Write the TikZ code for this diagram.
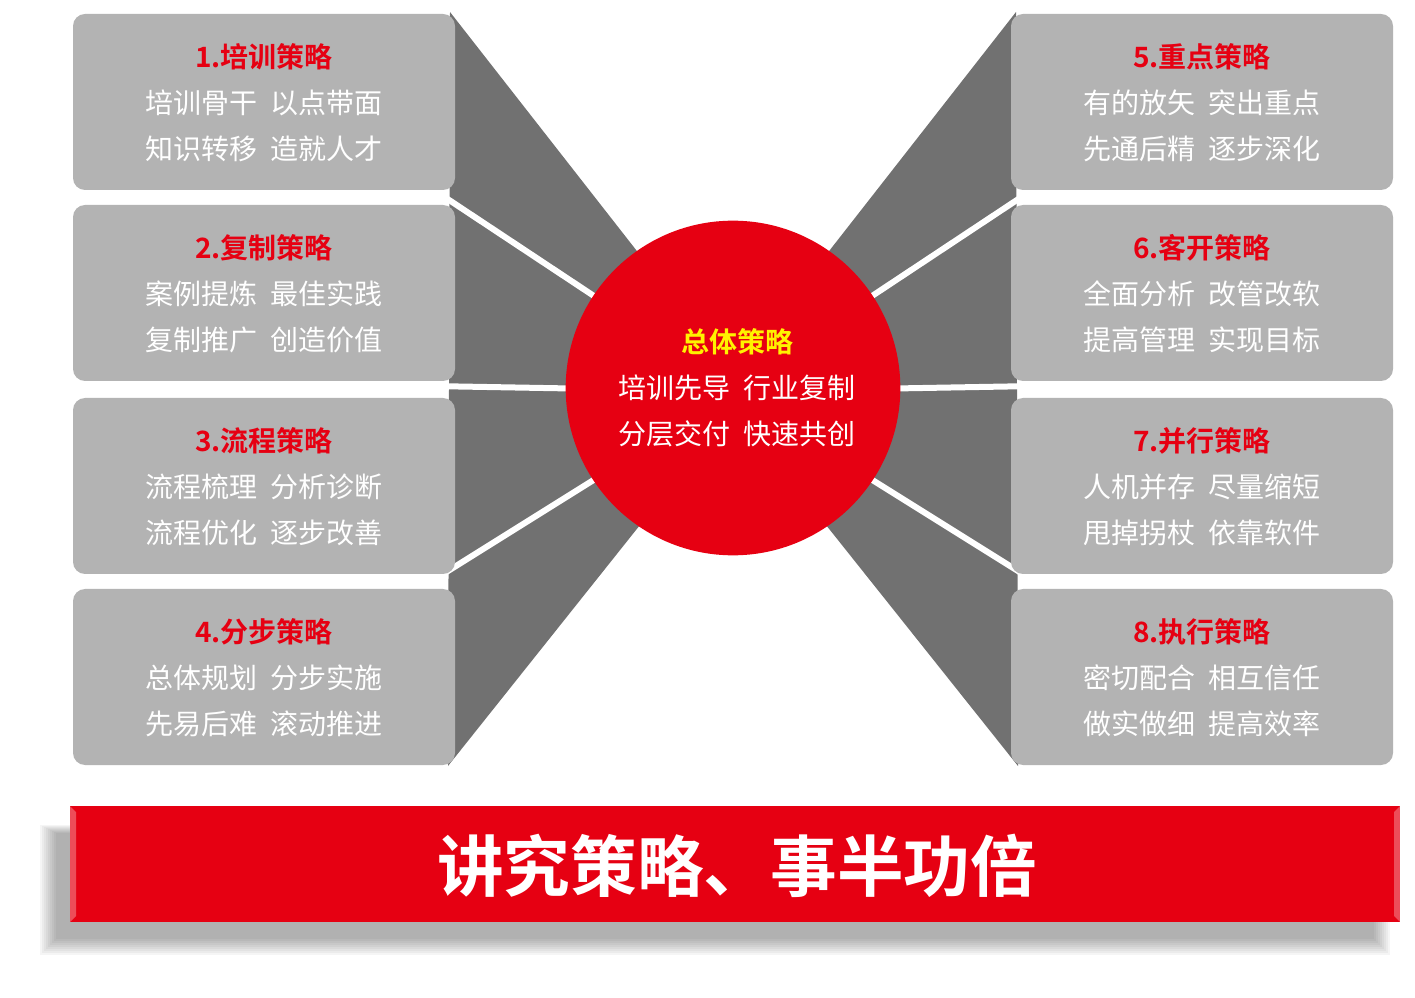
\documentclass[tikz,border=0pt]{standalone}
\usepackage{fontspec}
\setmainfont{Noto Sans CJK SC}
\newfontfamily\cjkb{Noto Sans CJK SC Bold}
\begin{document}
\begin{tikzpicture}[x=0.75pt,y=-0.75pt,
  box/.style={fill=boxgray,rounded corners=9pt},
  ttl/.style={text=red0,font=\cjkb\fontsize{21}{24}\selectfont},
  bdy/.style={text=white,font=\fontsize{21}{24}\selectfont}]
\definecolor{boxgray}{HTML}{B3B3B3}
\definecolor{dk}{HTML}{717171}
\definecolor{red0}{HTML}{E60012}
\useasboundingbox (0,0) rectangle (1415,998);
% wedges
\fill[dk] (450,12) -- (640,255) -- (640,525) -- (448,766) -- cycle;
\fill[dk] (1016,12) -- (826,255) -- (826,525) -- (1018,766) -- cycle;
\draw[white,line width=4.5pt] (437,192) -- (600,300);
\draw[white,line width=4.5pt] (430,386) -- (600,389);
\draw[white,line width=4.5pt] (440,576) -- (600,476);
\draw[white,line width=4.5pt] (1029,192) -- (866,300);
\draw[white,line width=4.5pt] (1036,386) -- (866,389);
\draw[white,line width=4.5pt] (1026,576) -- (866,476);
% boxes
\foreach \i/\y/\t/\a/\b in {1/14/1.培训策略/培训骨干\ \ 以点带面/知识转移\ \ 造就人才,
  2/205/2.复制策略/案例提炼\ \ 最佳实践/复制推广\ \ 创造价值,
  3/398/3.流程策略/流程梳理\ \ 分析诊断/流程优化\ \ 逐步改善,
  4/589/4.分步策略/总体规划\ \ 分步实施/先易后难\ \ 滚动推进}{
  \fill[box] (73,\y) rectangle (455,\y+176);
  \node[ttl] (L\i t) at (264,\y+43) {\t};
  \node[bdy] (L\i a) at (264,\y+89) {\a};
  \node[bdy] (L\i b) at (264,\y+135) {\b};
}
\foreach \i/\y/\t/\a/\b in {5/14/5.重点策略/有的放矢\ \ 突出重点/先通后精\ \ 逐步深化,
  6/205/6.客开策略/全面分析\ \ 改管改软/提高管理\ \ 实现目标,
  7/398/7.并行策略/人机并存\ \ 尽量缩短/甩掉拐杖\ \ 依靠软件,
  8/589/8.执行策略/密切配合\ \ 相互信任/做实做细\ \ 提高效率}{
  \fill[box] (1011,\y) rectangle (1393,\y+176);
  \node[ttl] (R\i t) at (1202,\y+43) {\t};
  \node[bdy] (R\i a) at (1202,\y+89) {\a};
  \node[bdy] (R\i b) at (1202,\y+135) {\b};
}
% circle
\fill[red0] (733,388) circle[radius=125.5pt];
\node[text=yellow,font=\cjkb\fontsize{21}{24}\selectfont] (ct) at (737,342) {总体策略};
\node[bdy] (c1) at (737,388) {培训先导\ \ 行业复制};
\node[bdy] (c2) at (737,434) {分层交付\ \ 快速共创};
% bar shadow
\foreach \k in {0,...,8}{
  \fill[black,opacity=0.04] (40+\k*2,825+\k) rectangle (1390-\k*2,955-\k*2);
}
\fill[red0] (70,806) rectangle (1400,922);
\fill[white,opacity=0.3] (70,806) -- (76,812) -- (76,916) -- (70,922) -- cycle;
\fill[white,opacity=0.3] (1400,806) -- (1394,812) -- (1394,916) -- (1400,922) -- cycle;
\node[text=white,font=\cjkb\fontsize{50}{56}\selectfont] (bar) at (737,866) {讲究策略、事半功倍};
\end{tikzpicture}
\end{document}
